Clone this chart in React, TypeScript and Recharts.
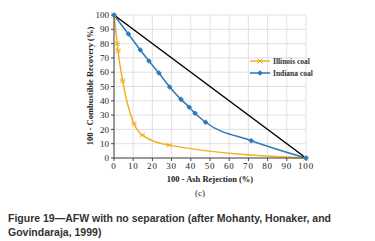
import React from "react"
import { LineChart, Line, XAxis, YAxis, CartesianGrid } from "recharts"

const ticks = [0, 10, 20, 30, 40, 50, 60, 70, 80, 90, 100]

const illinoisX = [0, 1.7, 2.1, 4.5, 10.4, 14.8, 28.8, 100]
const illinoisY = [100, 80, 75, 54, 24, 16, 9, 0]

const indianaX = [0, 7.5, 13.7, 18.2, 23.4, 29, 34.9, 39.2, 42.2, 47.7, 71.5, 100]
const indianaY = [100, 86.7, 75.5, 67.8, 59.4, 49.7, 41, 35.5, 31.3, 25, 12.1, 0]

const noSepX = [0, 100]
const noSepY = [100, 0]

const YELLOW = "#EFB023"
const BLUE = "#2E78BD"

const toRows = (xs: number[], ys: number[]) => xs.map((x, i) => ({ x, y: ys[i] }))

const illinois = toRows(illinoisX, illinoisY)
const indiana = toRows(indianaX, indianaY)
const noSep = toRows(noSepX, noSepY)

const serif = "'Liberation Serif', 'DejaVu Serif', serif"

function CrossDot(props: any) {
  const { cx, cy } = props
  if (cx == null || cy == null) return null
  const s = 2.5
  return (
    <g stroke={YELLOW} strokeWidth={1}>
      <line x1={cx - s} y1={cy - s} x2={cx + s} y2={cy + s} />
      <line x1={cx - s} y1={cy + s} x2={cx + s} y2={cy - s} />
      <line x1={cx - s} y1={cy} x2={cx + s} y2={cy} />
    </g>
  )
}

function DiamondDot(props: any) {
  const { cx, cy } = props
  if (cx == null || cy == null) return null
  const s = 2.8
  return <path d={`M${cx},${cy - s}L${cx + s},${cy}L${cx},${cy + s}L${cx - s},${cy}Z`} fill={BLUE} />
}

function LegendBox() {
  const row = (color: string, label: string, marker: React.ReactNode) => (
    <div style={{ display: "flex", alignItems: "center", height: 12 }}>
      <svg width={20} height={8}>
        <line x1={0} y1={4} x2={20} y2={4} stroke={color} strokeWidth={1.5} />
        {marker}
      </svg>
      <span style={{ marginLeft: 3, fontFamily: serif, fontSize: 7.5, fontWeight: 700, color: "#333" }}>{label}</span>
    </div>
  )
  return (
    <div style={{ position: "absolute", left: 250, top: 55 }}>
      {row(YELLOW, "Illinois coal", <CrossDot cx={10} cy={4} />)}
      {row(BLUE, "Indiana coal", <DiamondDot cx={10} cy={4} />)}
    </div>
  )
}

const tickStyle = { fontSize: 9, fill: "#222", fontFamily: serif, letterSpacing: 0.8 }

export default function App() {
  return (
    <div style={{ position: "absolute", left: 0, top: 0, width: 375, height: 241, background: "#fff" }}>
      <LineChart width={375} height={241} margin={{ top: 15, right: 69, bottom: 63, left: 84 }}>
        <CartesianGrid stroke="#D9D9D9" strokeWidth={0.8} />
        <XAxis
          type="number"
          dataKey="x"
          domain={[0, 100]}
          ticks={ticks}
          interval={0}
          height={20}
          tick={tickStyle}
          tickSize={3}
          stroke="#444"
          allowDuplicatedCategory={false}
        />
        <YAxis
          type="number"
          dataKey="y"
          domain={[0, 100]}
          ticks={ticks}
          interval={0}
          width={30}
          tick={{ ...tickStyle, letterSpacing: 0 }}
          tickSize={3}
          stroke="#444"
        />
        <Line
          data={illinois}
          dataKey="y"
          name="Illinois coal"
          type="monotone"
          stroke={YELLOW}
          strokeWidth={1.5}
          dot={<CrossDot />}
          isAnimationActive={false}
        />
        <Line
          data={indiana}
          dataKey="y"
          name="Indiana coal"
          type="monotone"
          stroke={BLUE}
          strokeWidth={1.5}
          dot={<DiamondDot />}
          isAnimationActive={false}
        />
        <Line
          data={noSep}
          dataKey="y"
          name="No separation"
          type="linear"
          stroke="#000"
          strokeWidth={1.5}
          dot={false}
          legendType="none"
          isAnimationActive={false}
        />
      </LineChart>
      <LegendBox />
      <div
        style={{
          position: "absolute",
          left: 90,
          top: 86,
          transform: "translate(-50%, -50%) rotate(-90deg)",
          whiteSpace: "nowrap",
          fontFamily: serif,
          fontWeight: 700,
          fontSize: 8.5,
          color: "#222",
        }}
      >
        100 - Combustible Recovery (%)
      </div>
      <div
        style={{
          position: "absolute",
          left: 210,
          top: 179,
          transform: "translate(-50%, -50%)",
          whiteSpace: "nowrap",
          fontFamily: serif,
          fontWeight: 700,
          fontSize: 8.5,
          color: "#222",
        }}
      >
        100 - Ash Rejection (%)
      </div>
      <div
        style={{
          position: "absolute",
          left: 200,
          top: 193,
          transform: "translate(-50%, -50%)",
          fontFamily: serif,
          fontSize: 9,
          color: "#222",
        }}
      >
        (c)
      </div>
      <div
        style={{
          position: "absolute",
          left: 8,
          top: 211,
          width: 360,
          fontFamily: "'Liberation Sans', Arial, sans-serif",
          fontWeight: 700,
          fontSize: 10.5,
          lineHeight: "14px",
          color: "#333",
        }}
      >
        Figure 19—AFW with no separation (after Mohanty, Honaker, and
        <br />
        Govindaraja, 1999)
      </div>
    </div>
  )
}
